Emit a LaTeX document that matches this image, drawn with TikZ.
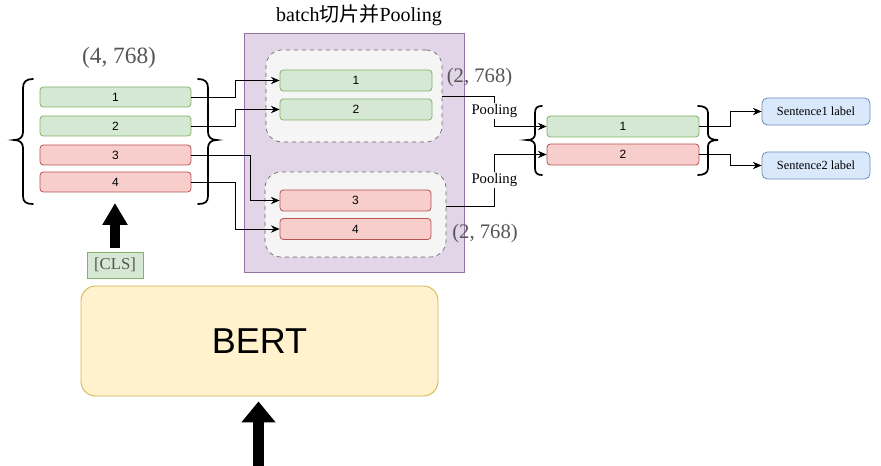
\documentclass[tikz,border=0pt]{standalone}
\usepackage{fontspec}
\setmainfont{Liberation Serif}
\setsansfont{Liberation Sans}
\newfontfamily\cjk{Noto Sans CJK SC}
\usetikzlibrary{arrows.meta,calc}
\definecolor{gfill}{HTML}{D5E8D4}
\definecolor{gline}{HTML}{82B366}
\definecolor{rfill}{HTML}{F8CECC}
\definecolor{rline}{HTML}{B85450}
\definecolor{pfill}{HTML}{E1D5E7}
\definecolor{pline}{HTML}{9673A6}
\definecolor{grfill}{HTML}{F5F5F5}
\definecolor{grline}{HTML}{666666}
\definecolor{bfill}{HTML}{DAE8FC}
\definecolor{bline}{HTML}{6C8EBF}
\definecolor{yfill}{HTML}{FFF2CC}
\definecolor{yline}{HTML}{D6B656}
\definecolor{txtgray}{HTML}{555555}
\begin{document}
\begin{tikzpicture}[x=0.75pt,y=-0.75pt,
  bar/.style={draw, rounded corners=2.5pt, minimum height={20*0.75pt}, inner sep=0pt,
    line width=0.6pt, font=\sffamily\fontsize{9}{10}\selectfont},
  gbar/.style={bar, fill=gfill, draw=gline},
  rbar/.style={bar, fill=rfill, draw=rline},
  grp/.style={draw=grline, fill=grfill, dashed, rounded corners=12pt, line width=0.5pt, inner sep=0pt},
  conn/.style={draw=black, line width=0.7pt, -{Stealth[length=6.5pt,width=5.5pt]}},
  brc/.style={draw=black, line width=1.3pt, line cap=round},
  dimtxt/.style={text=txtgray, font=\fontsize{15.5}{18}\selectfont},
  fat/.style={draw=black, line width={10*0.75pt}, -{Triangle[length={22*0.75pt}, width={24*0.75pt}]}},
  fatbig/.style={draw=black, line width={11*0.75pt}, -{Triangle[length={21*0.75pt}, width={33*0.75pt}]}},
  lbl/.style={draw=bline, fill=bfill, rounded corners=4pt, minimum width={108*0.75pt},
    minimum height={27*0.75pt}, inner sep=0pt, line width=0.6pt, font=\fontsize{9.3}{11}\selectfont},
  pool/.style={fill=white, inner sep=1pt, font=\fontsize{11}{13}\selectfont}
]
\useasboundingbox (0,0) rectangle (881,466);

% purple container
\node[draw=pline, fill=pfill, line width=0.7pt, minimum width={220*0.75pt}, minimum height={239*0.75pt}, inner sep=0pt] (pbox) at (354.5,152.5) {};
\node (title) at (359,15) {\fontsize{15}{17}\selectfont batch{\cjk 切片并}Pooling};

% dashed groups
\node[grp, minimum width={176*0.75pt}, minimum height={92*0.75pt}] (grp1) at (354,96) {};
\node[grp, minimum width={181*0.75pt}, minimum height={85*0.75pt}] (grp2) at (355.5,214.5) {};

% left bars
\node[gbar, minimum width={151*0.75pt}] (lb1) at (115.5,97) {1};
\node[gbar, minimum width={151*0.75pt}] (lb2) at (115.5,126) {2};
\node[rbar, minimum width={151*0.75pt}] (lb3) at (115.5,155) {3};
\node[rbar, minimum width={151*0.75pt}] (lb4) at (115.5,182) {4};
\node[dimtxt, font=\fontsize{17.5}{20}\selectfont] (dim4) at (119,58) {(4, 768)};

% group bars
\node[gbar, minimum width={152*0.75pt}, minimum height={21*0.75pt}] (gb1) at (356,80.5) {1};
\node[gbar, minimum width={152*0.75pt}, minimum height={21*0.75pt}] (gb2) at (356,109.5) {2};
\node[rbar, minimum width={151*0.75pt}, minimum height={21*0.75pt}] (gb3) at (355.5,200.5) {3};
\node[rbar, minimum width={151*0.75pt}, minimum height={21*0.75pt}] (gb4) at (355.5,229) {4};
\node[dimtxt] (dim2a) at (479.5,78) {(2, 768)};
\node[dimtxt] (dim2b) at (485,234) {(2, 768)};

% right bars
\node[gbar, minimum width={152*0.75pt}, minimum height={21*0.75pt}] (rb1) at (623,126.5) {1};
\node[rbar, minimum width={152*0.75pt}, minimum height={21*0.75pt}] (rb2) at (623,154.5) {2};

% labels
\node[lbl] (s1) at (816,111.5) {Sentence1 label};
\node[lbl] (s2) at (816,165.5) {Sentence2 label};

% CLS and BERT
\node[draw=gline, fill=gfill, line width=0.6pt, minimum width={56*0.75pt}, minimum height={26*0.75pt}, inner sep=0pt, text=txtgray, font=\fontsize{12.5}{14}\selectfont] (cls) at (115,265) {[CLS]};
\node[draw=yline, fill=yfill, line width=0.7pt, rounded corners=11pt, minimum width={357*0.75pt}, minimum height={110*0.75pt}, inner sep=0pt, font=\sffamily\fontsize{27}{30}\selectfont] (bert) at (259.5,341) {BERT};

% braces
\draw[brc] (33,79) .. controls (26,79) and (23,82) .. (23,88) -- (23,132) .. controls (23,137) and (20,140) .. (14,140) .. controls (20,140) and (23,143) .. (23,148) -- (23,196) .. controls (23,202) and (26,204) .. (33,204);
\draw[brc] (198,79) .. controls (205,79) and (208,82) .. (208,88) -- (208,132) .. controls (208,137) and (211,140) .. (217,140) .. controls (211,140) and (208,143) .. (208,148) -- (208,196) .. controls (208,202) and (205,204) .. (198,204);
\draw[brc] (542,106) .. controls (537,106) and (535,108) .. (535,113) -- (535,134) .. controls (535,138) and (532,140) .. (527,140) .. controls (532,140) and (535,142) .. (535,146) -- (535,168) .. controls (535,173) and (537,175) .. (542,175);
\draw[brc] (698,106) .. controls (704,106) and (708,108) .. (708,113) -- (708,134) .. controls (708,138) and (712,140) .. (718,140) .. controls (712,140) and (708,142) .. (708,146) -- (708,168) .. controls (708,173) and (704,175) .. (698,175);

% connectors left -> groups
\draw[conn] (lb1.east) -- ++(44,0) |- (gb1.west);
\draw[conn] (lb2.east) -- ++(44,0) |- (gb2.west);
\draw[conn] (lb3.east) -- ++(59,0) |- (gb3.west);
\draw[conn] (lb4.east) -- ++(44,0) |- (gb4.west);

% pooling connectors
\draw[conn] (grp1.east) -- ++(52,0) |- node[pos=0.25, pool] {Pooling} (rb1.west);
\draw[conn] ($(grp2.east)+(0,-8.5)$) -- ++(48,0) |- node[pos=0.25, pool] {Pooling} (rb2.west);

% right connectors
\draw[conn] (rb1.east) -- ++(31,0) |- (s1.west);
\draw[conn] (rb2.east) -- ++(31,0) |- (s2.west);

% block arrows
\coordinate (clstip) at (115,203);
\draw[fat] ([yshift={4*0.75pt}]cls.north) -- (clstip);
\coordinate (bertbase) at (258.5,466);
\draw[fatbig] (bertbase) -- ([yshift={-5*0.75pt}]bert.south -| bertbase);
\end{tikzpicture}
\end{document}
